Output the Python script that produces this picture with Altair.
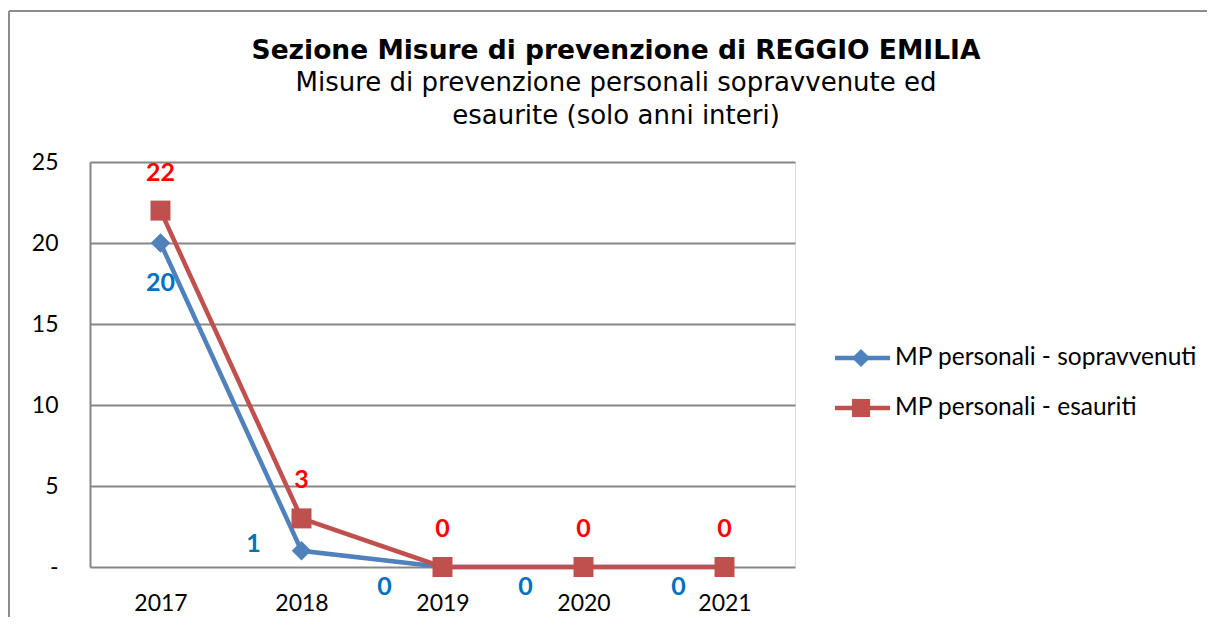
import altair as alt
import pandas as pd

years = ["2017", "2018", "2019", "2020", "2021"]
sopravvenuti = [20, 1, 0, 0, 0]
esauriti = [22, 3, 0, 0, 0]
series = ["MP personali - sopravvenuti", "MP personali - esauriti"]
y_ticks = [0, 5, 10, 15, 20, 25]
title_text = "Sezione Misure di prevenzione di REGGIO EMILIA"
subtitle_lines = ["Misure di prevenzione personali sopravvenute ed",
                  "esaurite (solo anni interi)"]

BLUE = "#4F81BD"
RED = "#C0504D"
BLUE_LBL = "#0070C0"
RED_LBL = "#FF0000"
GRID = "#868686"
LFONT = "Lato"

df = pd.DataFrame({
    "anno": years * 2,
    "valore": sopravvenuti + esauriti,
    "serie": [series[0]] * len(years) + [series[1]] * len(years),
})

W, H = 705, 405

x = alt.X("anno:O", scale=alt.Scale(type="point", padding=0.5),
          axis=alt.Axis(title=None, labelAngle=0, ticks=False, domain=False,
                        labelPadding=25, labelFontSize=23, labelFont=LFONT,
                        labelColor="black", grid=False))
y = alt.Y("valore:Q", scale=alt.Scale(domain=[0, 25], nice=False, zero=True),
          axis=alt.Axis(values=y_ticks, title=None, ticks=False,
                        domainColor=GRID, domainWidth=2, grid=True,
                        gridColor=GRID, gridWidth=2,
                        labelExpr="datum.value == 0 ? '-\u00a0\u00a0' : datum.label",
                        labelPadding=32, labelFontSize=23, labelFont=LFONT,
                        labelColor="black"))

base = alt.Chart(df).encode(x=x, y=y)
s1 = base.transform_filter(alt.datum.serie == series[0])
s2 = base.transform_filter(alt.datum.serie == series[1])

line1 = s1.mark_line(color=BLUE, strokeWidth=4.5)
pt1 = s1.mark_point(shape="diamond", filled=True, size=380, color=BLUE, opacity=1)
line2 = s2.mark_line(color=RED, strokeWidth=4.5)
pt2 = s2.mark_point(shape="square", filled=True, size=400, color=RED, opacity=1)

lbl2 = s2.mark_text(fontWeight="bold", fontSize=25, font=LFONT, color=RED_LBL,
                    dy=-38).encode(text="valore:Q")

blue_offsets = {"2017": (0, 40), "2018": (-48, -7), "2019": (-58, 20),
                "2020": (-58, 20), "2021": (-46, 20)}
blue_lbls = []
for yr, (ddx, ddy) in blue_offsets.items():
    blue_lbls.append(
        s1.transform_filter(alt.datum.anno == yr).mark_text(
            fontWeight="bold", fontSize=25, font=LFONT, color=BLUE_LBL,
            dx=ddx, dy=ddy).encode(text="valore:Q"))

# custom legend (line + marker)
leg = []
leg_y = [196, 246]
for name, ly, col, shp in [(series[0], leg_y[0], BLUE, "diamond"),
                           (series[1], leg_y[1], RED, "square")]:
    one = alt.Chart(pd.DataFrame({"serie": [name]}))
    leg.append(one.mark_rule(color=col, strokeWidth=4.5).encode(
        x=alt.value(745), x2=alt.value(800), y=alt.value(ly)))
    leg.append(one.mark_point(shape=shp, filled=True, opacity=1, color=col,
                              size=330).encode(
        x=alt.value(771), y=alt.value(ly)))
    leg.append(one.mark_text(align="left", baseline="middle", fontSize=24.5,
                             font=LFONT, color="black").encode(
        x=alt.value(805), y=alt.value(ly), text="serie:N"))

# title block as text marks (centred on the whole chart)
tdf = alt.Chart(pd.DataFrame({"t": [title_text], "s1": [subtitle_lines[0]],
                              "s2": [subtitle_lines[1]]}))
titles = [
    tdf.mark_text(font="DejaVu Sans", fontSize=26.5, fontWeight="bold",
                  color="black", align="center", baseline="middle").encode(
        x=alt.value(526), y=alt.value(-111), text="t:N"),
    tdf.mark_text(font="DejaVu Sans", fontSize=26, color="black",
                  align="center", baseline="middle").encode(
        x=alt.value(526), y=alt.value(-79), text="s1:N"),
    tdf.mark_text(font="DejaVu Sans", fontSize=26, color="black",
                  align="center", baseline="middle").encode(
        x=alt.value(526), y=alt.value(-46), text="s2:N"),
]

# outer frame lines (left and top)
frame_df = alt.Chart(pd.DataFrame({"f": [0]}))
frame = [
    frame_df.mark_rule(color="#8C8C8C", strokeWidth=2).encode(
        x=alt.value(-81), x2=alt.value(-81), y=alt.value(-151), y2=alt.value(480)),
    frame_df.mark_rule(color="#8C8C8C", strokeWidth=2).encode(
        x=alt.value(-81), x2=alt.value(1140), y=alt.value(-151), y2=alt.value(-151)),
]

chart = alt.layer(line1, pt1, line2, pt2, lbl2, *blue_lbls, *leg, *titles,
                  *frame).properties(
    width=W, height=H,
    autosize=alt.AutoSizeParams(type="none"),
    padding={"left": 82, "top": 154, "right": 412, "bottom": 50},
).configure_view(stroke=None).configure(background="white")

chart.save("out.html", embed_options={"renderer": "svg", "actions": False})
